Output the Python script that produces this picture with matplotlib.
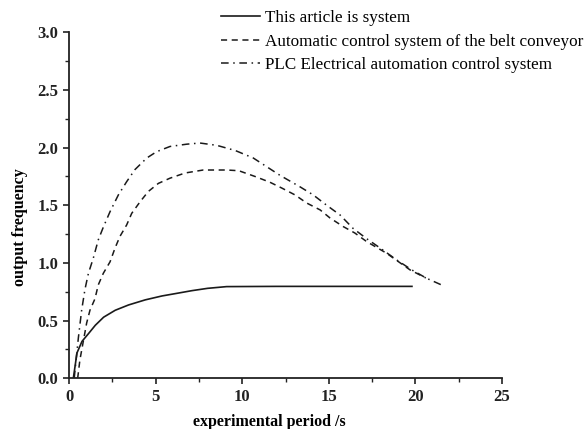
import matplotlib
matplotlib.use("Agg")
import matplotlib.pyplot as plt
from matplotlib.ticker import MultipleLocator

plt.rcParams['font.family'] = ['Liberation Serif', 'DejaVu Serif']

labels = ["This article is system",
          "Automatic control system of the belt conveyor",
          "PLC Electrical automation control system"]

x_this = [0.25, 0.46, 0.75, 1.14, 1.52, 2.0, 2.67, 3.44, 4.4, 5.37, 6.24, 7.1, 8.0, 9.1, 12.0, 15.0, 19.8]
y_this = [0.0, 0.22, 0.32, 0.39, 0.46, 0.53, 0.59, 0.636, 0.68, 0.714, 0.737, 0.76, 0.78, 0.795, 0.797, 0.797, 0.797]

x_belt = [0.5, 0.63, 1.02, 1.21, 1.5, 1.69, 1.98, 2.37, 2.66, 2.94, 3.33, 3.62, 4.1, 4.58,
          5.16, 5.83, 6.7, 7.75, 9.1, 9.8, 10.74, 11.6, 12.28, 13.05, 13.72, 14.5, 15.07,
          15.84, 16.5, 17.19, 18.34, 19.69, 20.6]
y_belt = [0.0, 0.16, 0.48, 0.59, 0.69, 0.81, 0.91, 1.01, 1.13, 1.23, 1.33, 1.43, 1.53, 1.62,
          1.69, 1.735, 1.78, 1.806, 1.806, 1.80, 1.75, 1.70, 1.65, 1.59, 1.52, 1.46, 1.39,
          1.315, 1.26, 1.185, 1.084, 0.94, 0.87]

x_plc = [0.3, 0.54, 0.73, 0.92, 1.12, 1.4, 1.69, 1.98, 2.37, 2.85, 3.33, 3.81, 4.49, 5.06,
         5.83, 6.8, 7.56, 8.53, 9.6, 10.64, 11.41, 12.18, 13.34, 14.1, 14.88, 15.65, 16.4,
         17.19, 17.96, 18.92, 19.79, 20.65, 21.5]
y_plc = [0.0, 0.35, 0.59, 0.77, 0.91, 1.04, 1.20, 1.31, 1.445, 1.59, 1.705, 1.81, 1.91, 1.965,
         2.01, 2.03, 2.04, 2.02, 1.975, 1.91, 1.835, 1.76, 1.66, 1.59, 1.50, 1.416, 1.30,
         1.21, 1.13, 1.026, 0.94, 0.867, 0.81]

fig = plt.figure(figsize=(5.84, 4.29), dpi=100)
ax = fig.add_axes([69/584, 1-378.3/429, (502-69)/584, (378.3-32.3)/429])

lc = '#1a1a1a'
ax.plot(x_this, y_this, color=lc, lw=1.2, ls='-', label=labels[0])
ax.plot(x_belt, y_belt, color=lc, lw=1.1, ls=(0, (4, 3)), label=labels[1])
ax.plot(x_plc, y_plc, color=lc, lw=1.1, ls=(0, (5, 3, 1, 3)), label=labels[2])

ax.set_xlim(0, 25)
ax.set_ylim(0, 3.0)
ax.xaxis.set_major_locator(MultipleLocator(5))
ax.xaxis.set_minor_locator(MultipleLocator(2.5))
ax.yaxis.set_major_locator(MultipleLocator(0.5))
ax.yaxis.set_minor_locator(MultipleLocator(0.25))
ax.set_yticks([0, 0.5, 1.0, 1.5, 2.0, 2.5, 3.0])
ax.set_yticklabels(['0.0', '0.5', '1.0', '1.5', '2.0', '2.5', '3.0'])

for s in ['top', 'right']:
    ax.spines[s].set_visible(False)
for s in ['left', 'bottom']:
    ax.spines[s].set_linewidth(1.3)
    ax.spines[s].set_color('#222222')

ax.tick_params(which='major', direction='out', length=4, width=1.2, labelsize=12, colors='#222222')
ax.tick_params(which='minor', direction='out', length=3, width=1.0, colors='#222222')
for t in ax.get_xticklabels() + ax.get_yticklabels():
    t.set_fontweight('bold')

ax.set_xlabel('experimental period /s', fontsize=11.5, fontweight='bold')
ax.set_ylabel('output frequency', fontsize=11.5, fontweight='bold')
ax.xaxis.set_label_coords(0.462, -0.126)
ax.yaxis.set_label_coords(-0.113, 0.437)
ax.xaxis.label.set_va('center')
ax.yaxis.label.set_va('center')

fig.legend(loc='upper left', bbox_to_anchor=(221/584, 1-10/429), frameon=False,
           fontsize=12.3, handlelength=2.3, handletextpad=0.3, labelspacing=0.45,
           borderaxespad=0, borderpad=0)

fig.savefig('out.png', dpi=100)
